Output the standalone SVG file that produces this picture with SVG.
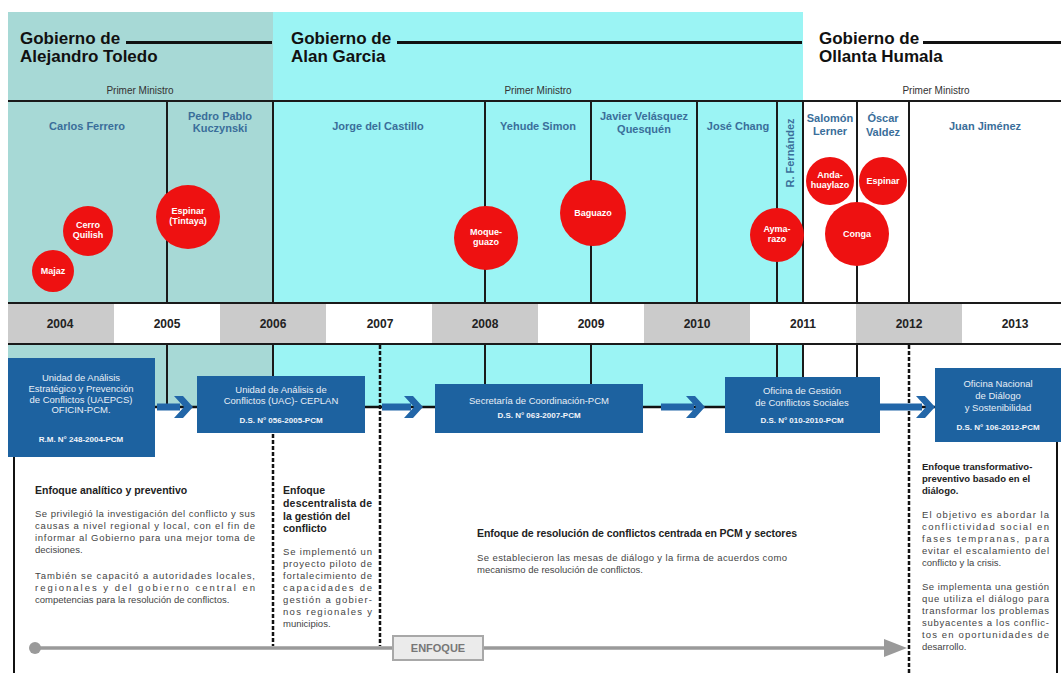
<svg xmlns="http://www.w3.org/2000/svg" width="1061" height="673" viewBox="0 0 1061 673">
  <defs>
    <style>
      .hdr { font-family: "Liberation Sans", Arial, sans-serif; font-weight: bold; font-size: 17px; fill: #111; }
      .pm { font-family: "Liberation Sans", Arial, sans-serif; font-size: 10px; fill: #333; text-anchor: middle; }
      .name { font-family: "Liberation Sans", Arial, sans-serif; font-weight: bold; font-size: 11px; fill: #3a6e9a; text-anchor: middle; }
      .year { font-family: "Liberation Sans", Arial, sans-serif; font-weight: bold; font-size: 12px; fill: #222; text-anchor: middle; }
      .evt { fill: #ee1111; }
      .evtxt { font-family: "Liberation Sans", Arial, sans-serif; font-weight: bold; font-size: 9px; fill: #fff; text-anchor: middle; }
      .box { fill: #1d62a0; }
      .btxt { font-family: "Liberation Sans", Arial, sans-serif; font-size: 9.5px; fill: #e8eef6; text-anchor: middle; }
      .bref { font-family: "Liberation Sans", Arial, sans-serif; font-weight: bold; font-size: 8px; fill: #f2f5fa; text-anchor: middle; }
      .col { stroke: #1a1a1a; stroke-width: 2; }
      .dash { stroke: #111; stroke-width: 2.5; stroke-dasharray: 4 2; fill: none; }
      .bh { font-family: "Liberation Sans", Arial, sans-serif; font-weight: bold; font-size: 9.5px; fill: #222; }
      .bh-lg { font-family: "Liberation Sans", Arial, sans-serif; font-weight: bold; font-size: 10.5px; fill: #222; }
      .bt { font-family: "Liberation Sans", Arial, sans-serif; font-size: 9.5px; fill: #444; }
      .chev { fill: #2266a8; }
    </style>
  </defs>

  <rect width="1061" height="673" fill="#ffffff"/>

  <!-- government period backgrounds -->
  <g id="periods">
    <rect x="8" y="12" width="265" height="291" fill="#a7d9d6"/>
    <rect x="273" y="12" width="530" height="291" fill="#9bf4f4"/>
    <rect x="8" y="345" width="265" height="62" fill="#a7d9d6"/>
    <rect x="273" y="345" width="530" height="62" fill="#9bf4f4"/>
  </g>

  <!-- government headers -->
  <g id="gov-toledo">
    <text class="hdr" x="20" y="44">Gobierno de</text>
    <text class="hdr" x="20" y="62">Alejandro Toledo</text>
    <line x1="126" y1="42.5" x2="272" y2="42.5" stroke="#111" stroke-width="3"/>
    <text class="pm" x="140" y="94">Primer Ministro</text>
  </g>
  <g id="gov-garcia">
    <text class="hdr" x="291" y="44">Gobierno de</text>
    <text class="hdr" x="291" y="62">Alan Garcia</text>
    <line x1="397" y1="42.5" x2="802" y2="42.5" stroke="#111" stroke-width="3"/>
    <text class="pm" x="538" y="94">Primer Ministro</text>
  </g>
  <g id="gov-humala">
    <text class="hdr" x="819" y="44">Gobierno de</text>
    <text class="hdr" x="819" y="62">Ollanta Humala</text>
    <line x1="923" y1="42.5" x2="1061" y2="42.5" stroke="#111" stroke-width="3"/>
    <text class="pm" x="936" y="94">Primer Ministro</text>
  </g>

  <!-- grid lines of the prime minister row -->
  <g id="grid">
    <line class="col" x1="8" y1="101" x2="1061" y2="101"/>
    <line class="col" x1="8" y1="303" x2="1061" y2="303"/>
    <line class="col" x1="8" y1="344" x2="1061" y2="344"/>
    <line class="col" x1="167" y1="101" x2="167" y2="303"/>
    <line class="col" x1="273" y1="101" x2="273" y2="303"/>
    <line class="col" x1="485" y1="101" x2="485" y2="303"/>
    <line class="col" x1="591" y1="101" x2="591" y2="303"/>
    <line class="col" x1="697" y1="101" x2="697" y2="303"/>
    <line class="col" x1="777" y1="101" x2="777" y2="303"/>
    <line class="col" x1="803" y1="101" x2="803" y2="303"/>
    <line class="col" x1="857" y1="101" x2="857" y2="303"/>
    <line class="col" x1="909" y1="101" x2="909" y2="303"/>
    <!-- below the year band -->
    <line class="col" x1="167" y1="345" x2="167" y2="407"/>
    <line class="col" x1="273" y1="345" x2="273" y2="407"/>
    <line class="col" x1="485" y1="345" x2="485" y2="407"/>
    <line class="col" x1="591" y1="345" x2="591" y2="407"/>
    <line class="col" x1="777" y1="345" x2="777" y2="407"/>
    <line class="col" x1="803" y1="345" x2="803" y2="407"/>
    <line class="col" x1="857" y1="345" x2="857" y2="407"/>
  </g>

  <!-- prime ministers -->
  <g id="ministers">
    <text class="name" x="87" y="130">Carlos Ferrero</text>
    <text class="name" x="220" y="120">Pedro Pablo</text>
    <text class="name" x="220" y="132">Kuczynski</text>
    <text class="name" x="378" y="130">Jorge del Castillo</text>
    <text class="name" x="538" y="130">Yehude Simon</text>
    <text class="name" x="644" y="120">Javier Velásquez</text>
    <text class="name" x="644" y="133">Quesquén</text>
    <text class="name" x="738" y="130">José Chang</text>
    <text class="name" transform="translate(794 153) rotate(-90)">R. Fernández</text>
    <text class="name" x="830" y="122">Salomón</text>
    <text class="name" x="830" y="135">Lerner</text>
    <text class="name" x="883" y="122">Óscar</text>
    <text class="name" x="883" y="136">Valdez</text>
    <text class="name" x="985" y="130">Juan Jiménez</text>
  </g>

  <!-- social conflicts -->
  <g id="conflict-majaz"><circle class="evt" cx="53" cy="271" r="21"/><text class="evtxt" x="53" y="274">Majaz</text></g>
  <g id="conflict-quilish"><circle class="evt" cx="88" cy="231" r="25"/><text class="evtxt" x="88" y="228">Cerro</text><text class="evtxt" x="88" y="238">Quilish</text></g>
  <g id="conflict-tintaya"><circle class="evt" cx="188" cy="217" r="32"/><text class="evtxt" x="188" y="214">Espinar</text><text class="evtxt" x="188" y="224">(Tintaya)</text></g>
  <g id="conflict-moquegua"><circle class="evt" cx="486" cy="238" r="32"/><text class="evtxt" x="486" y="235">Moque-</text><text class="evtxt" x="486" y="245">guazo</text></g>
  <g id="conflict-bagua"><circle class="evt" cx="593" cy="213" r="33"/><text class="evtxt" x="593" y="216">Baguazo</text></g>
  <g id="conflict-aymara"><circle class="evt" cx="777" cy="235" r="27"/><text class="evtxt" x="777" y="232">Ayma-</text><text class="evtxt" x="777" y="242">razo</text></g>
  <g id="conflict-andahuaylas"><circle class="evt" cx="830" cy="181" r="24"/><text class="evtxt" x="830" y="178">Anda-</text><text class="evtxt" x="830" y="188">huaylazo</text></g>
  <g id="conflict-espinar"><circle class="evt" cx="883" cy="181" r="24"/><text class="evtxt" x="883" y="184">Espinar</text></g>
  <g id="conflict-conga"><circle class="evt" cx="857" cy="234" r="32"/><text class="evtxt" x="857" y="237">Conga</text></g>

  <!-- year band -->
  <g id="years">
    <rect x="8" y="304" width="106" height="39" fill="#cbcbcb"/>
    <rect x="220" y="304" width="106" height="39" fill="#cbcbcb"/>
    <rect x="432" y="304" width="106" height="39" fill="#cbcbcb"/>
    <rect x="644" y="304" width="106" height="39" fill="#cbcbcb"/>
    <rect x="856" y="304" width="106" height="39" fill="#cbcbcb"/>
    <text class="year" x="60" y="328">2004</text>
    <text class="year" x="167" y="328">2005</text>
    <text class="year" x="273" y="328">2006</text>
    <text class="year" x="380" y="328">2007</text>
    <text class="year" x="485" y="328">2008</text>
    <text class="year" x="591" y="328">2009</text>
    <text class="year" x="697" y="328">2010</text>
    <text class="year" x="803" y="328">2011</text>
    <text class="year" x="909" y="328">2012</text>
    <text class="year" x="1015" y="328">2013</text>
  </g>

  <!-- connectors: timeline, stage arrows, separators, frame -->
  <g id="connectors">
    <line x1="8" y1="407" x2="935" y2="407" stroke="#111" stroke-width="2.5"/>
    <line class="col" x1="273" y1="345" x2="273" y2="376"/>
    <line class="dash" x1="273" y1="434" x2="273" y2="646"/>
    <line class="dash" x1="380" y1="345" x2="380" y2="646"/>
    <line class="dash" x1="909" y1="345" x2="909" y2="673"/>
    <line x1="14" y1="457" x2="14" y2="673" stroke="#111" stroke-width="2"/>
    <line x1="1057" y1="442" x2="1057" y2="673" stroke="#111" stroke-width="2"/>
    <!-- stage arrows -->
    <path class="chev" d="M157,403.5 H180 V410.5 H157 Z M174,396 H183 L193,407 L183,418 H174 L184,407 Z"/>
    <path class="chev" d="M382,403.5 H411 V410.5 H382 Z M404,396 H413 L423,407 L413,418 H404 L414,407 Z"/>
    <path class="chev" d="M661,403.5 H694 V410.5 H661 Z M686,396 H695 L705,407 L695,418 H686 L696,407 Z"/>
    <path class="chev" d="M880,403.5 H922 V410.5 H880 Z M916,396 H925 L935,407 L925,418 H916 L926,407 Z"/>
    <!-- approach axis -->
    <circle cx="35" cy="648" r="6" fill="#9a9a9a"/>
    <line x1="35" y1="648" x2="890" y2="648" stroke="#9a9a9a" stroke-width="3.5"/>
    <path d="M884,639 L907,648 L884,657 Z" fill="#9a9a9a"/>
  </g>

  <!-- institutions -->
  <g id="inst-uaepcs">
    <rect class="box" x="8" y="358" width="147" height="99"/>
    <text class="btxt" x="81" y="381">Unidad de Análisis</text>
    <text class="btxt" x="81" y="392">Estratégico y Prevención</text>
    <text class="btxt" x="81" y="403">de Conflictos (UAEPCS)</text>
    <text class="btxt" x="81" y="413">OFICIN-PCM.</text>
    <text class="bref" x="81" y="442">R.M. N° 248-2004-PCM</text>
  </g>
  <g id="inst-uac">
    <rect class="box" x="197" y="376" width="168" height="57"/>
    <text class="btxt" x="281" y="393">Unidad de Análisis de</text>
    <text class="btxt" x="281" y="404">Conflictos (UAC)- CEPLAN</text>
    <text class="bref" x="281" y="423">D.S. N° 056-2005-PCM</text>
  </g>
  <g id="inst-secretaria">
    <rect class="box" x="435" y="384" width="208" height="49"/>
    <text class="btxt" x="539" y="404">Secretaría de Coordinación-PCM</text>
    <text class="bref" x="539" y="418">D.S. N° 063-2007-PCM</text>
  </g>
  <g id="inst-ogcs">
    <rect class="box" x="725" y="377" width="155" height="56"/>
    <text class="btxt" x="802" y="394">Oficina de Gestión</text>
    <text class="btxt" x="802" y="406">de Conflictos Sociales</text>
    <text class="bref" x="802" y="423">D.S. N° 010-2010-PCM</text>
  </g>
  <g id="inst-onds">
    <rect class="box" x="935" y="368" width="126" height="74"/>
    <text class="btxt" x="998" y="387">Oficina Nacional</text>
    <text class="btxt" x="998" y="399">de Diálogo</text>
    <text class="btxt" x="998" y="411">y Sostenibilidad</text>
    <text class="bref" x="998" y="430">D.S. N° 106-2012-PCM</text>
  </g>

  <!-- approaches -->
  <g id="approach-analitico">
    <text class="bh-lg" x="35" y="494">Enfoque analítico y preventivo</text>
    <text class="bt" x="35" y="517" textLength="220" lengthAdjust="spacing">Se privilegió la investigación del conflicto y sus</text>
    <text class="bt" x="35" y="529" textLength="220" lengthAdjust="spacing">causas a nivel regional y local, con el fin de</text>
    <text class="bt" x="35" y="541" textLength="220" lengthAdjust="spacing">informar al Gobierno para una mejor toma de</text>
    <text class="bt" x="35" y="553">decisiones.</text>
    <text class="bt" x="35" y="579" textLength="220" lengthAdjust="spacing">También se capacitó a autoridades locales,</text>
    <text class="bt" x="35" y="591" textLength="220" lengthAdjust="spacing">regionales y del gobierno central en</text>
    <text class="bt" x="35" y="603">competencias para la resolución de conflictos.</text>
  </g>
  <g id="approach-descentralista">
    <text class="bh-lg" x="283" y="494">Enfoque</text>
    <text class="bh-lg" x="283" y="507" textLength="89" lengthAdjust="spacing">descentralista de</text>
    <text class="bh-lg" x="283" y="520">la gestión del</text>
    <text class="bh-lg" x="283" y="532">conflicto</text>
    <text class="bt" x="283" y="555" textLength="89" lengthAdjust="spacing">Se implementó un</text>
    <text class="bt" x="283" y="567" textLength="89" lengthAdjust="spacing">proyecto piloto de</text>
    <text class="bt" x="283" y="579" textLength="89" lengthAdjust="spacing">fortalecimiento de</text>
    <text class="bt" x="283" y="591" textLength="89" lengthAdjust="spacing">capacidades de</text>
    <text class="bt" x="283" y="603" textLength="89" lengthAdjust="spacing">gestión a gobier-</text>
    <text class="bt" x="283" y="615" textLength="89" lengthAdjust="spacing">nos regionales y</text>
    <text class="bt" x="283" y="627">municipios.</text>
  </g>
  <g id="approach-pcm">
    <text class="bh-lg" x="477" y="537" textLength="320" lengthAdjust="spacing">Enfoque de resolución de conflictos centrada en PCM y sectores</text>
    <text class="bt" x="477" y="561" textLength="310" lengthAdjust="spacing">Se establecieron las mesas de diálogo y la firma de acuerdos como</text>
    <text class="bt" x="477" y="573">mecanismo de resolución de conflictos.</text>
  </g>
  <g id="approach-transformativo">
    <text class="bh" x="922" y="470">Enfoque transformativo-</text>
    <text class="bh" x="922" y="482">preventivo basado en el</text>
    <text class="bh" x="922" y="494">diálogo.</text>
    <text class="bt" x="922" y="518" textLength="127" lengthAdjust="spacing">El objetivo es abordar la</text>
    <text class="bt" x="922" y="530" textLength="127" lengthAdjust="spacing">conflictividad social en</text>
    <text class="bt" x="922" y="542" textLength="127" lengthAdjust="spacing">fases tempranas, para</text>
    <text class="bt" x="922" y="554" textLength="127" lengthAdjust="spacing">evitar el escalamiento del</text>
    <text class="bt" x="922" y="566">conflicto y la crisis.</text>
    <text class="bt" x="922" y="590" textLength="127" lengthAdjust="spacing">Se implementa una gestión</text>
    <text class="bt" x="922" y="602" textLength="127" lengthAdjust="spacing">que utiliza el diálogo para</text>
    <text class="bt" x="922" y="614" textLength="127" lengthAdjust="spacing">transformar los problemas</text>
    <text class="bt" x="922" y="626" textLength="127" lengthAdjust="spacing">subyacentes a los conflic-</text>
    <text class="bt" x="922" y="638" textLength="127" lengthAdjust="spacing">tos en oportunidades de</text>
    <text class="bt" x="922" y="650">desarrollo.</text>
  </g>

  <g id="enfoque-label">
    <rect x="393" y="636" width="90" height="24" fill="#ebebeb" stroke="#a8a8a8" stroke-width="2"/>
    <text x="438" y="652" text-anchor="middle" font-family="Liberation Sans, Arial, sans-serif" font-weight="bold" font-size="11" fill="#777">ENFOQUE</text>
  </g>
</svg>
